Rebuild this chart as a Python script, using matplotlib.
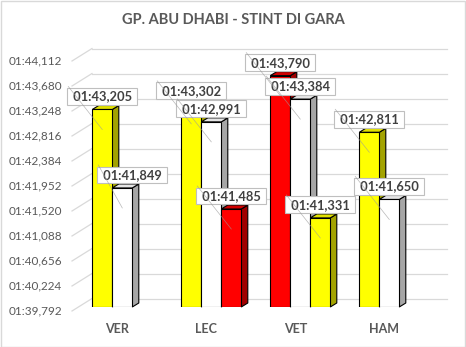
import matplotlib
matplotlib.use("Agg")
import matplotlib.pyplot as plt
from matplotlib.patches import Polygon, Rectangle

plt.rcParams['font.family'] = ['Lato', 'DejaVu Sans']

# ---- data -------------------------------------------------------------
drivers = ["VER", "LEC", "VET", "HAM"]
# average lap time of each stint, in seconds
ver_times = [103.205, 101.849]
lec_times = [103.302, 102.991, 101.485]
vet_times = [103.790, 103.384, 101.331]
ham_times = [102.811, 101.650]
# tyre compound of each stint
ver_tyres = ["medium", "hard"]
lec_tyres = ["medium", "hard", "soft"]
vet_tyres = ["soft", "hard", "medium"]
ham_tyres = ["medium", "hard"]

y_ticks = [99.792, 100.224, 100.656, 101.088, 101.520, 101.952,
           102.384, 102.816, 103.248, 103.680, 104.112]
title = "GP. ABU DHABI - STINT DI GARA"

# ---- styling ----------------------------------------------------------
# (front, side, top) colours per compound
tyre_colors = {
    "soft":   ("#FF0000", "#A00000", "#D00000"),
    "medium": ("#FFFF00", "#A3A300", "#E0E000"),
    "hard":   ("#FFFFFF", "#A6A6A6", "#E4E4E4"),
}
TEXT = "#595959"
GRID = "#D9D9D9"

W, H, DPI = 466, 347, 100
ax_l, ax_r, ax_t, ax_b = 72, 447, 57, 307      # plot area in pixels
cat_px = 89.0                                   # pixels per category
x_min = -0.508
x_max = x_min + (ax_r - ax_l) / cat_px
y_min, y_max = y_ticks[0], y_ticks[-1]
ppx = cat_px
ppy = (ax_b - ax_t) / (y_max - y_min)

bar_w = 20 / cat_px
group_start = -0.28
depth_dx, depth_dy = 6.5, 4.0                   # 3-D extrusion in pixels
wall_dx, wall_dy = 20.0, 12.5                   # back wall offset, pixels
front_drop = 4.0                                # axis labels below bar floor


def fmt(sec):
    m = int(sec // 60)
    s = sec - 60 * m
    return f"{m:02d}:{s:06.3f}".replace(".", ",")


def px(dx, dy):
    """pixel offset -> data offset"""
    return dx / ppx, dy / ppy


fig = plt.figure(figsize=(W / DPI, H / DPI), dpi=DPI)
fig.patch.set_facecolor("white")
ax = fig.add_axes([ax_l / W, (H - ax_b) / H, (ax_r - ax_l) / W, (ax_b - ax_t) / H])
ax.set_xlim(x_min, x_max)
ax.set_ylim(y_min, y_max)
ax.axis("off")

# back wall grid + left wall depth lines
wdx, wdy = px(wall_dx, wall_dy - front_drop)
fdx, fdy = px(0, -front_drop)
for t in y_ticks:
    ax.plot([x_min, x_min + wdx], [t + fdy, t + wdy], color=GRID, lw=0.9,
            zorder=1, clip_on=False)
    ax.plot([x_min + wdx, x_max], [t + wdy, t + wdy], color=GRID, lw=0.9,
            zorder=1, clip_on=False)
    ax.annotate(fmt(t), xy=(x_min, t), xytext=(-10, -front_drop),
                textcoords="offset pixels", ha="right", va="center",
                fontsize=8.5, color=TEXT, annotation_clip=False)

ddx, ddy = px(depth_dx, depth_dy)
label_offsets = {(0, 1): (10, 13)}

groups = [(ver_times, ver_tyres), (lec_times, lec_tyres),
          (vet_times, vet_tyres), (ham_times, ham_tyres)]
z = 3
for i, (times, tyres) in enumerate(groups):
    for k, (v, tyre) in enumerate(zip(times, tyres)):
        front, side, top = tyre_colors[tyre]
        x0 = i + group_start + k * bar_w
        x1 = x0 + bar_w
        side_poly = Polygon([(x1, y_min), (x1, v), (x1 + ddx, v + ddy),
                             (x1 + ddx, y_min + ddy)], closed=True,
                            facecolor=side, edgecolor="black", lw=0.8,
                            zorder=z, clip_on=False)
        top_poly = Polygon([(x0, v), (x1, v), (x1 + ddx, v + ddy),
                            (x0 + ddx, v + ddy)], closed=True,
                           facecolor=top, edgecolor="black", lw=0.8,
                           zorder=z, clip_on=False)
        ax.add_patch(side_poly)
        ax.add_patch(top_poly)
        ax.bar(x0, v - y_min, bottom=y_min, width=bar_w, align="edge",
               color=front, edgecolor="black", lw=0.8, zorder=z + 0.5)
        z += 1

        # value label with leader line
        ox, oy = label_offsets.get((i, k), (0, 13))
        xc = x0 + bar_w / 2
        ax.annotate(" " + fmt(v) + " ", xy=(xc, v), xytext=(ox, oy),
                    textcoords="offset pixels", ha="center", va="center",
                    fontsize=9.3, fontweight="bold", color="#404040",
                    zorder=50, annotation_clip=False,
                    bbox=dict(boxstyle="square,pad=0.19", fc="white",
                              ec="#BFBFBF", lw=0.8))
        sx, sy = px(ox - 34, oy + 10)
        ex, ey = px(0, -20)
        ax.plot([xc + sx, xc + ex], [v + sy, v + ey], color="#9A9A9A",
                lw=0.5, alpha=0.7, zorder=51, clip_on=False)

for i, name in enumerate(drivers):
    ax.annotate(name, xy=(i, y_min), xytext=(0, -22),
                textcoords="offset pixels", ha="center", va="center",
                fontsize=9, fontweight="bold", color=TEXT,
                annotation_clip=False)

fig.text(233 / W, 1 - 20 / H, title, ha="center", va="center",
         fontsize=10.5, fontweight="bold", color=TEXT)

fig.patches.append(Rectangle((0.5 / W, 0.5 / H), 1 - 1.5 / W, 1 - 1.5 / H,
                             transform=fig.transFigure, fill=False,
                             ec=GRID, lw=1.0))

fig.savefig("out.png", dpi=DPI, facecolor="white")
